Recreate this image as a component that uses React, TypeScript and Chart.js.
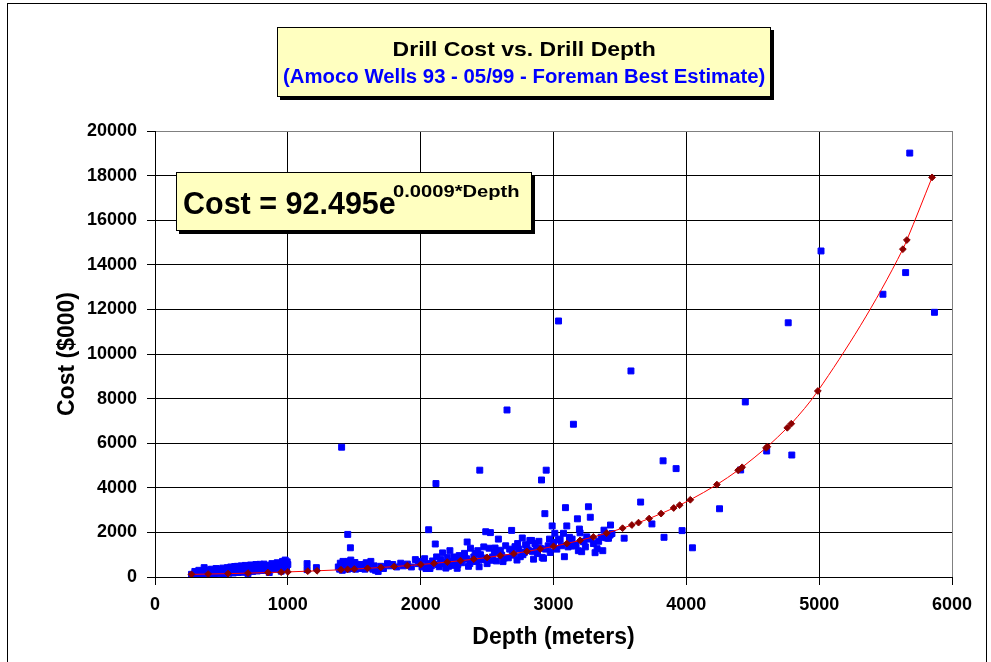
import React, { useEffect, useRef } from "react";
import { Chart, registerables } from "chart.js";

Chart.register(...registerables);

const chartTitle = "Drill Cost vs. Drill Depth";
const chartSubtitle = "(Amoco Wells 93 - 05/99 - Foreman Best Estimate)";
const equationMain = "Cost = 92.495e";
const equationExp = "0.0009*Depth";
const xAxisTitle = "Depth (meters)";
const yAxisTitle = "Cost ($000)";
const xTicks = [0, 1000, 2000, 3000, 4000, 5000, 6000];
const yTicks = [0, 2000, 4000, 6000, 8000, 10000, 12000, 14000, 16000, 18000, 20000];

// Wells: depth (m) and cost ($000)
const wellDepth = [
  275, 290, 300, 310, 320, 335, 345, 360, 370, 380, 395, 410, 420, 430, 445, 455, 470, 480, 495, 505,
  515, 530, 540, 555, 565, 580, 590, 600, 615, 625, 640, 650, 660, 675, 685, 700, 710, 720, 735, 745,
  755, 770, 780, 790, 800, 815, 825, 835, 850, 860, 870, 885, 895, 905, 915, 925, 935, 945, 955, 965,
  975, 985, 990, 995, 1000, 380, 520, 700, 860, 950,
  300, 330, 350, 400, 425, 460, 490, 510, 545, 570, 600, 620, 650, 680, 720, 760, 790, 820, 880, 920, 960, 980,
  1145, 1145, 1215,
  1380, 1390, 1400, 1405, 1410, 1420, 1430, 1440, 1450, 1451, 1455, 1460, 1470, 1471, 1474, 1480, 1490, 1500, 1510, 1520,
  1535, 1550, 1560, 1575, 1590, 1610, 1625, 1640, 1660, 1680, 1700, 1720, 1750, 1770, 1790, 1820, 1850, 1870, 1900, 1930,
  1960, 1980, 2000,
  1395, 1415, 1425, 1445, 1465, 1485, 1505, 1530, 1545, 1580, 1600, 1650,
  2010, 2030, 2050, 2060, 2070, 2090, 2110, 2115, 2120, 2130, 2140, 2150, 2165, 2175, 2190, 2200,
  2220, 2230, 2245, 2260, 2275, 2290, 2310, 2330, 2345, 2350, 2360, 2375, 2390, 2400,
  2410, 2430, 2440, 2445, 2460, 2475, 2490, 2500, 2515, 2525, 2540, 2555, 2570, 2585, 2590,
  2610, 2620, 2640, 2650, 2660, 2685, 2690, 2710, 2725, 2740, 2750, 2765, 2780, 2790,
  2810, 2822, 2835, 2850, 2870, 2880, 2900, 2910, 2915, 2925, 2935, 2945, 2960, 2975, 2990, 3000, 3010,
  3025, 3036, 3038, 3050, 3075, 3082, 3090, 3100, 3110, 3120, 3137, 3140, 3150, 3160, 3180, 3187, 3195, 3200, 3212, 3225,
  3230, 3250, 3263, 3277, 3300, 3313, 3328, 3359, 3371, 3390, 3414, 3426, 3429, 3440,
  2040, 2080, 2160, 2210, 2250, 2280, 2320, 2370, 2420, 2450, 2480, 2530, 2560, 2600, 2630, 2670, 2700, 2730, 2770, 2800,
  2840, 2860, 2890, 2940, 2970, 3060, 3130, 3170, 3240, 3270, 3340, 3380, 3400,
  3532, 3583, 3656, 3741, 3825, 3832, 3923, 3968, 4046, 4250,
  4409, 4444, 4605, 4767, 4794, 5014, 5480, 5651, 5682, 5868,
];
const wellCost = [
  120, 95, 150, 110, 180, 130, 90, 200, 420, 140, 170, 110, 230, 160, 120, 250, 190, 140, 270, 210,
  150, 300, 220, 170, 310, 250, 180, 330, 260, 200, 380, 280, 210, 400, 300, 230, 430, 330, 250, 450,
  350, 270, 480, 380, 290, 500, 400, 300, 520, 420, 320, 540, 440, 340, 560, 460, 360, 600, 500, 380,
  620, 520, 420, 680, 560, 100, 120, 150, 200, 260,
  250, 300, 260, 320, 350, 380, 330, 400, 420, 450, 470, 480, 500, 520, 540, 560, 570, 580, 600, 640, 700, 760,
  600, 330, 420,
  450, 350, 550, 5820, 300, 480, 400, 600, 350, 1910, 700, 450, 520, 1310, 760, 380, 600, 450, 350, 500,
  420, 560, 380, 480, 640, 420, 700, 350, 300, 250, 480, 380, 600, 500, 560, 450, 620, 500, 580, 450,
  780, 600, 700,
  620, 700, 550, 450, 600, 550, 650, 500, 400, 350, 550, 500,
  450, 820, 600, 2120, 380, 720, 1480, 4190, 900, 560, 460, 780, 1080, 650, 400, 880,
  1180, 700, 520, 760, 390, 960, 640, 1060, 820, 1570, 480, 1290, 700, 900,
  1050, 1180, 460, 4790, 780, 1350, 2030, 600, 1290, 1990, 900, 1100, 720, 1700, 1200,
  980, 690, 1400, 7490, 860, 2090, 1150, 1360, 760, 1250, 910, 1750, 1100, 1450,
  1200, 1640, 1640, 800, 1300, 1050, 1290, 4350, 880, 840, 2840, 4790, 1400, 1100, 2290, 1550, 1960,
  1250, 1660, 11480, 1700, 1960, 910, 3110, 2290, 1350, 1780, 1390, 1700, 6850, 1400, 2610, 1180, 2150, 1980, 1135, 1580,
  1600, 1800, 3150, 2680, 1500, 1090, 1270, 1780, 1180, 1800, 1735, 1880, 2330, 1950,
  380, 500, 600, 480, 900, 560, 800, 600, 700, 1000, 850, 750, 1300, 1150, 850, 1250, 980, 1500, 1000, 1350,
  1150, 1500, 1600, 1250, 1700, 1400, 1600, 1450, 1350, 1700, 1600, 2100, 1750,
  1740, 9240, 3360, 2380, 5210, 1780, 4860, 2080, 1310, 3060,
  4800, 7850, 5650, 11400, 5470, 14620, 12680, 13650, 19010, 11870,
];

// Exponential trend markers (depth, cost) along the fitted curve
const trendDepth = [
  275, 400, 550, 700, 850, 950, 1000, 1150, 1220, 1400, 1450, 1500, 1600, 1700, 1800, 1900, 2000, 2100, 2200, 2300,
  2400, 2500, 2600, 2700, 2800, 2900, 3000, 3100, 3200, 3300, 3400, 3520, 3590, 3640, 3720, 3810, 3905, 3950, 4030, 4230,
  4390, 4420, 4600, 4610, 4760, 4790, 4990, 5630, 5660, 5850,
];
const trendCost = [
  118, 133, 152, 174, 199, 218, 228, 261, 278, 325, 340, 357, 390, 427, 467, 511, 559, 611, 669, 732,
  800, 876, 958, 1048, 1146, 1254, 1372, 1501, 1642, 1796, 1965, 2188, 2331, 2438, 2620, 2842, 3095, 3223, 3463, 4143,
  4788, 4920, 5790, 5842, 6691, 6874, 8340, 14700, 15110, 17920,
];

const FONT = "'Liberation Sans', Arial, sans-serif";

export default function App() {
  const canvasRef = useRef<HTMLCanvasElement | null>(null);

  useEffect(() => {
    const canvas = canvasRef.current;
    if (!canvas) return;
    const chart = new Chart(canvas, {
      type: "scatter",
      data: {
        datasets: [
          {
            label: "Trend",
            data: trendDepth.map((d, i) => ({ x: d, y: trendCost[i] })),
            showLine: true,
            borderColor: "#FF0000",
            borderWidth: 1,
            cubicInterpolationMode: "monotone",
            pointStyle: "rectRot",
            pointRadius: 3.4,
            pointBorderWidth: 1,
            pointBackgroundColor: "#8B0000",
            pointBorderColor: "#8B0000",
          },
          {
            label: "Wells",
            data: wellDepth.map((d, i) => ({ x: d, y: wellCost[i] })),
            showLine: false,
            pointStyle: "rect",
            pointRadius: 4.2,
            pointBorderWidth: 1,
            pointBackgroundColor: "#0000FF",
            pointBorderColor: "#0000FF",
          },
        ],
      },
      options: {
        responsive: false,
        animation: false,
        layout: { padding: { left: 0, top: 131, right: 39, bottom: 0 } },
        plugins: { legend: { display: false }, tooltip: { enabled: false }, title: { display: false } },
        scales: {
          x: {
            type: "linear",
            min: 0,
            max: 6000,
            afterBuildTicks: (scale: any) => {
              scale.ticks = xTicks.map((v) => ({ value: v }));
            },
            afterFit: (scale: any) => {
              scale.height = 85;
            },
            ticks: {
              color: "#000",
              padding: 9,
              font: { family: FONT, size: 18, weight: "bold" },
              maxRotation: 0,
              callback: (v: any) => String(v),
            },
            grid: {
              color: (ctx: any) => (ctx.tick && ctx.tick.value === 6000 ? "#808080" : "#000"),
              lineWidth: 1,
              tickLength: 8,
              tickColor: "#000",
              drawTicks: true,
            },
            border: { display: true, color: "#000", width: 1 },
            title: {
              display: true,
              text: xAxisTitle,
              color: "#000",
              font: { family: FONT, size: 23, weight: "bold" },
              padding: { top: 0, bottom: 11 },
            },
          },
          y: {
            type: "linear",
            min: 0,
            max: 20000,
            afterBuildTicks: (scale: any) => {
              scale.ticks = yTicks.map((v) => ({ value: v }));
            },
            afterFit: (scale: any) => {
              scale.width = 155;
            },
            ticks: {
              color: "#000",
              padding: 10,
              font: { family: FONT, size: 18, weight: "bold" },
              callback: (v: any) => String(v),
            },
            grid: {
              color: (ctx: any) => (ctx.tick && ctx.tick.value === 20000 ? "#808080" : "#000"),
              lineWidth: 1,
              tickLength: 8,
              tickColor: "#000",
              drawTicks: true,
            },
            border: { display: true, color: "#000", width: 1 },
            title: {
              display: true,
              text: yAxisTitle,
              color: "#000",
              font: { family: FONT, size: 23, weight: "bold" },
              padding: { top: 54, bottom: 0 },
            },
          },
        },
      },
    } as any);
    return () => chart.destroy();
  }, []);

  const boxBase: React.CSSProperties = {
    position: "absolute",
    boxSizing: "border-box",
    background: "#FFFFC0",
    border: "1px solid #000",
    boxShadow: "3px 3px 0 #000",
  };

  return (
    <div style={{ position: "fixed", left: 0, top: 0, width: 991, height: 662, overflow: "hidden", background: "#fff" }}>
      <div
        style={{
          position: "absolute",
          left: 7,
          top: 3,
          width: 980,
          height: 700,
          border: "1px solid #000",
          boxSizing: "border-box",
        }}
      />
      <canvas ref={canvasRef} width={991} height={662} style={{ position: "absolute", left: 0, top: 0, width: 991, height: 662 }} />
      <div style={{ ...boxBase, left: 277, top: 27, width: 494, height: 70 }}>
        <div
          style={{
            position: "absolute",
            left: 0,
            width: "100%",
            top: 38.2 - 28,
            textAlign: "center",
            fontFamily: FONT,
            fontWeight: "bold",
            fontSize: 21,
            lineHeight: 1,
            color: "#000",
            whiteSpace: "nowrap",
          }}
        >
          <span style={{ display: "inline-block", transform: "scaleX(1.095)" }}>{chartTitle}</span>
        </div>
        <div
          style={{
            position: "absolute",
            left: 0,
            width: "100%",
            top: 66.8 - 28,
            textAlign: "center",
            fontFamily: FONT,
            fontWeight: "bold",
            fontSize: 19.5,
            lineHeight: 1,
            color: "#0000FF",
            whiteSpace: "nowrap",
          }}
        >
          <span style={{ display: "inline-block", transform: "scaleX(1.043)" }}>{chartSubtitle}</span>
        </div>
      </div>
      <div style={{ ...boxBase, left: 176, top: 172, width: 356, height: 59 }}>
        <span
          style={{
            position: "absolute",
            left: 6,
            top: 14.6,
            fontFamily: FONT,
            fontWeight: "bold",
            fontSize: 30.5,
            lineHeight: 1,
            color: "#000",
            whiteSpace: "nowrap",
          }}
        >
          {equationMain}
        </span>
        <span
          style={{
            position: "absolute",
            left: 216,
            top: 10.5,
            fontFamily: FONT,
            fontWeight: "bold",
            fontSize: 16,
            lineHeight: 1,
            color: "#000",
            whiteSpace: "nowrap",
            transform: "scaleX(1.26)",
            transformOrigin: "left center",
          }}
        >
          {equationExp}
        </span>
      </div>
    </div>
  );
}
